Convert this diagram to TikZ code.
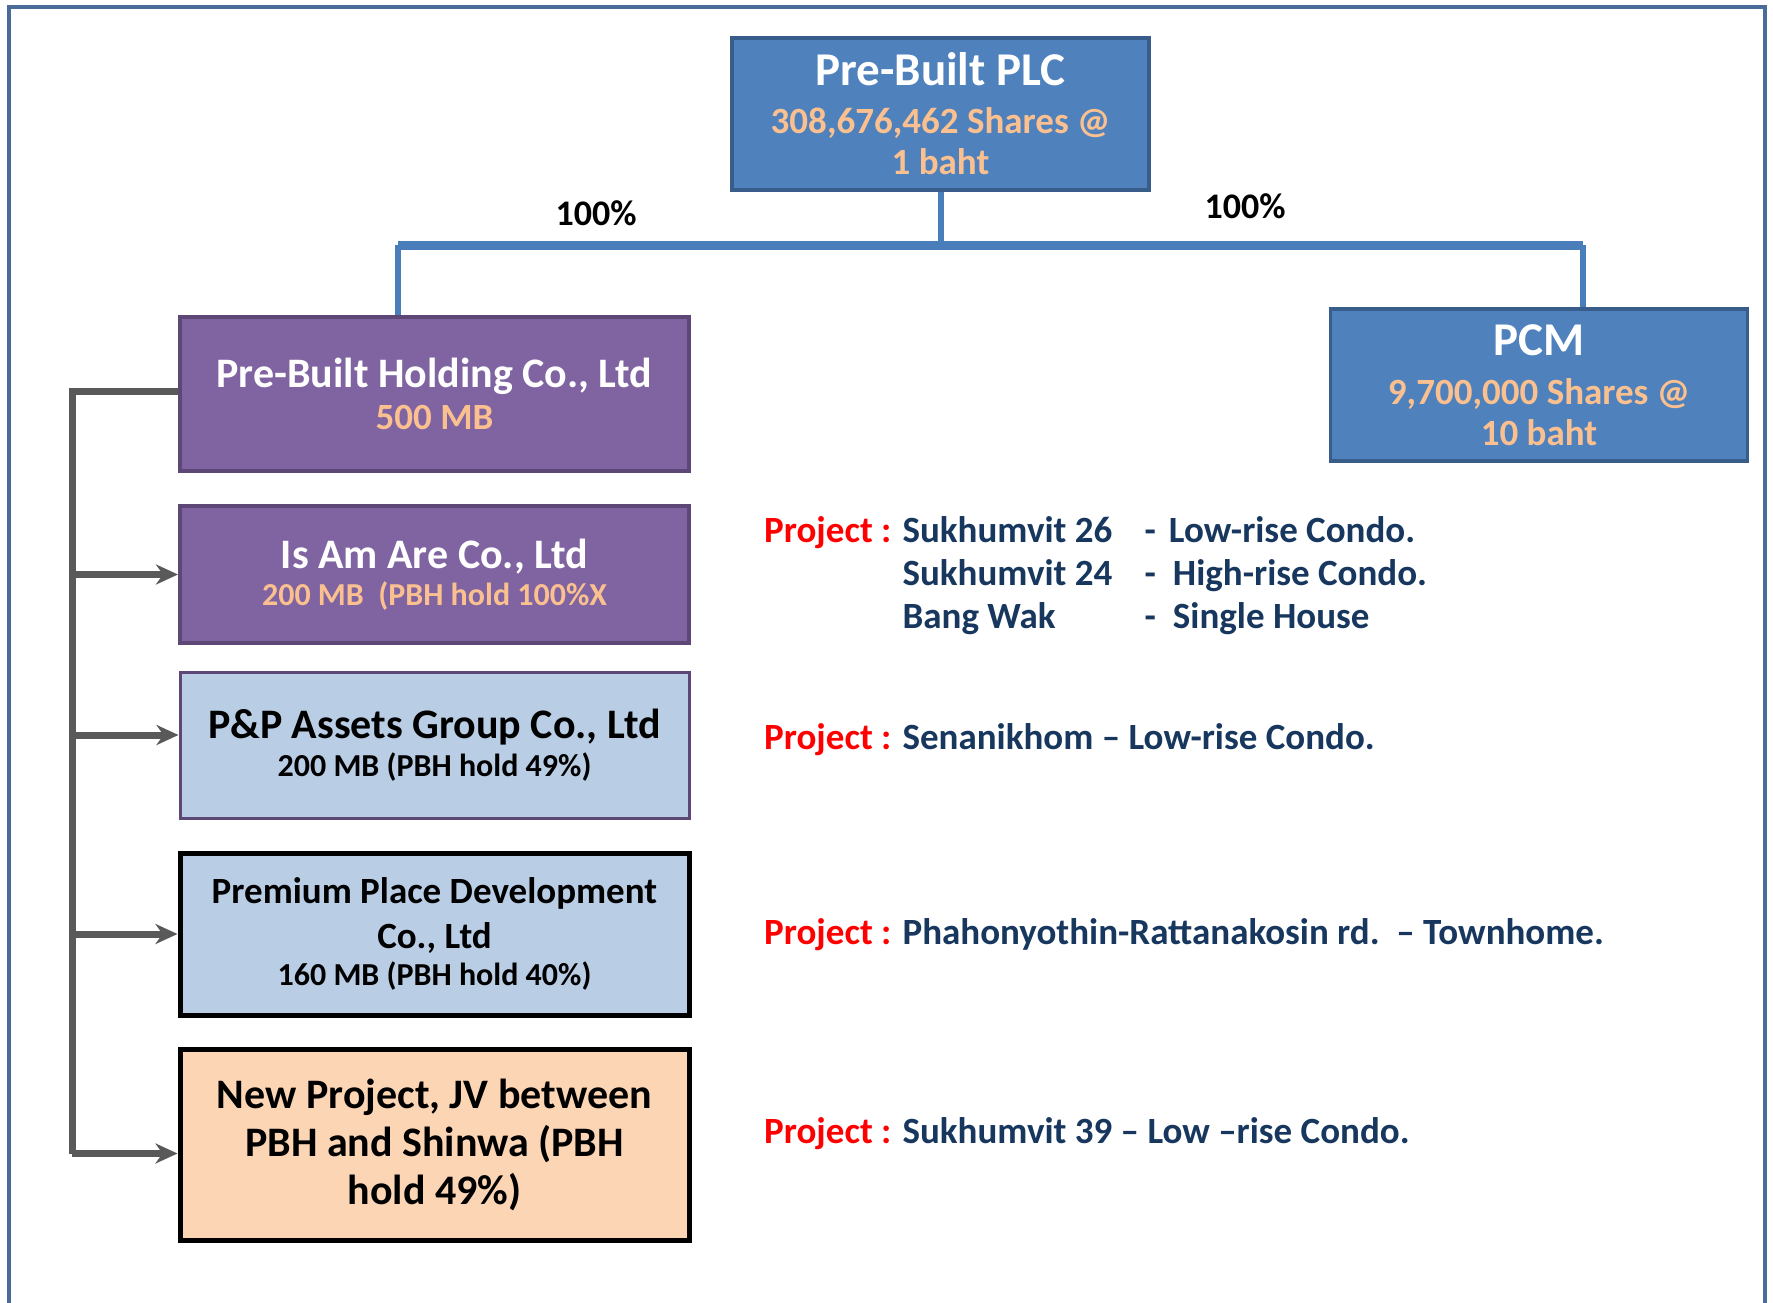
\documentclass[tikz,border=0pt]{standalone}
\usepackage{fontspec}
\setmainfont{Carlito}
\usepackage{tikz}
\usetikzlibrary{positioning, arrows.meta}

\definecolor{plcblue}{HTML}{4F81BD}
\definecolor{plcedge}{HTML}{385D8A}
\definecolor{holdpurple}{HTML}{8064A2}
\definecolor{holdedge}{HTML}{5C4776}
\definecolor{lightblue}{HTML}{B9CDE5}
\definecolor{peach}{HTML}{FCD5B5}
\definecolor{shares}{HTML}{FAC090}
\definecolor{navy}{HTML}{17375E}
\definecolor{linkblue}{HTML}{4A7EBB}
\definecolor{frameblue}{HTML}{4A6C9B}
\definecolor{brackgray}{HTML}{595959}

\newcommand{\bigsz}{\fontsize{47}{50}\selectfont}
\newcommand{\midsz}{\fontsize{42}{46}\selectfont}
\newcommand{\smlsz}{\fontsize{32}{37}\selectfont}
\newcommand{\projlbl}{\textcolor{red}{Project :}}

\begin{document}
\begin{tikzpicture}[x=1pt, y=-1pt, >={Stealth[length=22pt, width=20pt, inset=7pt]},
													orgbox/.style={rectangle, draw, inner sep=0pt, align=center, minimum width=509pt},
													topbox/.style={orgbox, fill=plcblue, draw=plcedge, line width=3.5pt, text=white,
														minimum width=417pt, minimum height=152pt, font=\bfseries\fontsize{37}{41}\selectfont},
													holdbox/.style={orgbox, fill=holdpurple, draw=holdedge, line width=4pt, text=white},
													ppbox/.style={orgbox, fill=lightblue, draw=holdedge, line width=3pt, text=black},
													blackbox/.style={orgbox, draw=black, line width=5pt, text=black},
													link/.style={linkblue, line width=6pt},
													brkline/.style={brackgray, line width=7pt, line join=miter},
													pct/.style={inner sep=0pt, text=black, font=\bfseries\fontsize{36}{40}\selectfont},
													projtxt/.style={anchor=base west, inner sep=0pt, text=navy, font=\bfseries\fontsize{37}{43}\selectfont}]

			\useasboundingbox (0,0) rectangle (1773,1303);
			\draw[frameblue, line width=4pt] (9,1303) -- (9,7) -- (1765,7) -- (1765,1303);

			\node[topbox] (plc) at (940.5,114) {{\bigsz Pre-Built PLC}\\[7pt] \color{shares}308,676,462 Shares @\\ \color{shares}1 baht};
			\node[topbox] (pcm) at (1539,385)  {{\bigsz PCM}\\[8pt] \color{shares}9,700,000 Shares @\\ \color{shares}10 baht};

			\node[holdbox, minimum height=154pt, font=\bfseries\fontsize{37}{42.5}\selectfont] (hold) at (434.5,394)
				{{\midsz Pre-Built Holding Co., Ltd}\\ \color{shares}500 MB};
			\node[holdbox, minimum height=137pt, font=\bfseries\fontsize{32}{37.5}\selectfont] (isam) [below=31pt of hold]
				{{\midsz Is Am Are Co., Ltd}\\ \color{shares}200 MB\ \ (PBH hold 100\%X};
			\node[ppbox, minimum height=146pt, font=\bfseries\fontsize{32}{38.5}\selectfont]   (pp)   [below=25.5pt of isam]
				{{\midsz P\&P Assets Group Co., Ltd}\\ 200 MB (PBH hold 49\%)};
			\node[blackbox, fill=lightblue, minimum height=162pt, font=\bfseries\fontsize{37}{45}\selectfont] (prem) [below=31pt of pp]
				{Premium Place Development\\ Co., Ltd\\[-8pt] \smlsz 160 MB (PBH hold 40\%)};
			\node[blackbox, fill=peach, minimum height=191pt, font=\bfseries\fontsize{42}{48}\selectfont]      (new)  [below=29pt of prem]
				{New Project, JV between\\ PBH and Shinwa (PBH\\ hold 49\%)};

			\coordinate (busL) at (398,245);
			\coordinate (busR) at (1583,245);
			\draw[link] (plc.south) -- (plc.south |- busL);
			\draw[link, line width=9pt] (busL) -- (busR);
			\draw[link] (busL) -- (busL |- hold.north);
			\draw[link] (busR) -- (busR |- pcm.north);

			\node[pct] (pctL) at (596,213)  {100\%};
			\node[pct] (pctR) at (1245,206) {100\%};

			\coordinate (brk) at (72,391);
			\coordinate (ppin) at ([yshift=10pt]pp.west);
			\coordinate (newin) at ([yshift=-9pt]new.west);
			\draw[brkline] (hold.west |- brk) -- (brk) -- (brk |- newin);
			\path[brkline, ->] (brk |- isam.west) edge (isam.west)
			                   (brk |- ppin)      edge (ppin)
			                   (brk |- prem.west) edge (prem.west)
			                   (brk |- newin)     edge (newin);

			\node[projtxt, anchor=west] (isamproj) at (764,577)
				{\begin{tabular}{@{}l@{ }p{242pt}@{}l@{}}
					\projlbl & Sukhumvit 26 & -\hspace{13pt}Low-rise Condo.\\
					         & Sukhumvit 24 & -\hspace{17pt}High-rise Condo.\\
					         & Bang Wak     & -\hspace{17pt}Single House
				\end{tabular}};
			\node[projtxt] (ppproj)   at (764,749)  {\projlbl{} Senanikhom – Low-rise Condo.};
			\node[projtxt] (premproj) at (764,944)  {\projlbl{} Phahonyothin-Rattanakosin rd.\ \ – Townhome.};
			\node[projtxt] (newproj)  at (764,1143) {\projlbl{} Sukhumvit 39 – Low –rise Condo.};

\end{tikzpicture}
\end{document}
